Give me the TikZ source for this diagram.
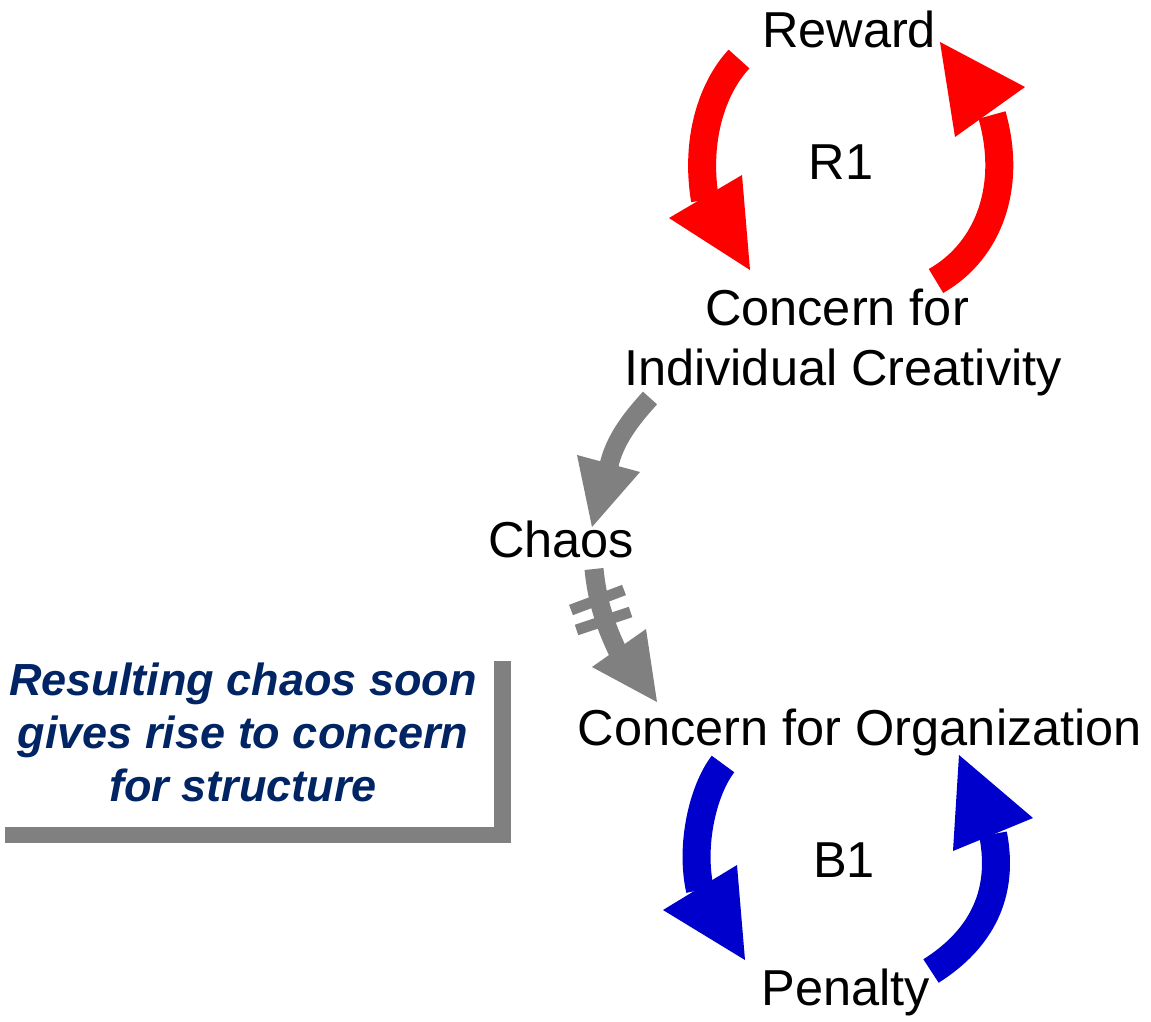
\documentclass[tikz,border=0pt]{standalone}
\usepackage{fontspec}
\setmainfont{Liberation Sans}
\definecolor{cldred}{RGB}{255,0,0}
\definecolor{cldblue}{RGB}{0,0,204}
\definecolor{cldgray}{RGB}{128,128,128}
\definecolor{notenavy}{RGB}{0,36,100}
\begin{document}
\begin{tikzpicture}[x=1pt,y=-1pt,
  lbl/.style={anchor=base, inner sep=0pt, font=\fontsize{50.5}{60}\selectfont},
  note/.style={anchor=base, inner sep=0pt, text=notenavy, font=\fontsize{45}{53}\selectfont\bfseries\itshape},
  bigshaft/.style={line width=28pt, line cap=butt},
  smallshaft/.style={line width=19pt, line cap=butt, draw=cldgray},
  delaybar/.style={line width=11pt, line cap=butt, draw=cldgray}]
\useasboundingbox (0,0) rectangle (1151,1021);

% note box with shadow
\fill[cldgray] (5,661) rectangle (511,843);
\fill[white] (0,644) rectangle (494,827);
\node[note] (n1) at (243,695) {Resulting chaos soon};
\node[note] (n2) at (243,748) {gives rise to concern};
\node[note] (n3) at (243,801) {for structure};

% variable labels
\node[lbl] (reward) at (849,47) {Reward};
\node[lbl] (r1) at (841,179) {R1};
\node[lbl] (cic1) at (837,325) {Concern for};
\node[lbl] (cic2) at (843,385) {Individual Creativity};
\node[lbl] (chaos) at (561,557) {Chaos};
\node[lbl] (cfo) at (860,745) {Concern for Organization};
\node[lbl] (b1) at (844,877) {B1};
\node[lbl] (penalty) at (846,1005) {Penalty};

% connector end points
\coordinate (rlS) at (739,59);   \coordinate (rlE) at (705,200);
\coordinate (rrS) at (936,281);  \coordinate (rrE) at (992,115);
\coordinate (g1S) at (650,398);  \coordinate (g1E) at (609,465);
\coordinate (g2S) at (594,569);  \coordinate (g2E) at (618,652);
\coordinate (blS) at (723,764);  \coordinate (blE) at (700,890);
\coordinate (brS) at (931,971);  \coordinate (brE) at (993,834);

% R1 loop
\draw[bigshaft, cldred] (rlS) .. controls (712,88) and (695,140) .. (rlE);
\fill[cldred] (669,218) -- (742,175) -- (750,270) -- cycle;
\draw[bigshaft, cldred] (rrS) .. controls (990,250) and (1012,185) .. (rrE);
\fill[cldred] (955,137) -- (1025,87) -- (940,42) -- cycle;

% creativity -> chaos
\draw[smallshaft] (g1S) .. controls (630,420) and (615,440) .. (g1E);
\fill[cldgray] (577,455) -- (640,472) -- (592,527) -- cycle;

% chaos -> organization (with delay)
\draw[smallshaft] (g2S) .. controls (597,600) and (605,625) .. (g2E);
\draw[delaybar] (571,610) -- (624,590);
\draw[delaybar] (576.5,630) -- (630.5,612);
\fill[cldgray] (592,667) -- (646,629) -- (657,702) -- cycle;

% B1 loop
\draw[bigshaft, cldblue] (blS) .. controls (703,790) and (690,845) .. (blE);
\fill[cldblue] (663,910) -- (737,865) -- (745,960) -- cycle;
\draw[bigshaft, cldblue] (brS) .. controls (980,940) and (1005,895) .. (brE);
\fill[cldblue] (953,851) -- (1033,818) -- (959,755) -- cycle;
\end{tikzpicture}
\end{document}
